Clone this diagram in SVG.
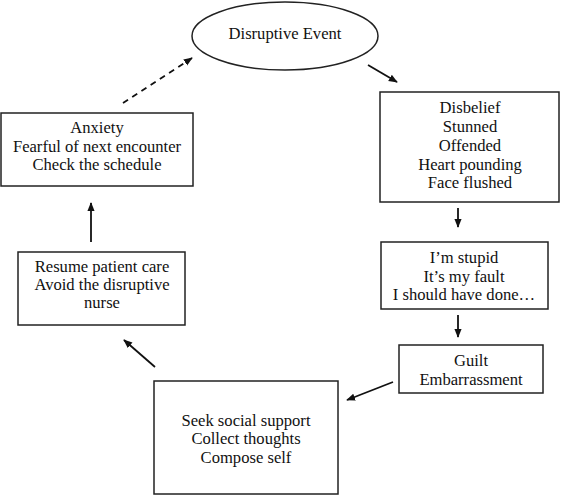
<svg xmlns="http://www.w3.org/2000/svg" width="561" height="497" viewBox="0 0 561 497">
<defs>
<style>
.box{fill:#fff;stroke:#222;stroke-width:1.5}
.t{font-family:"Liberation Serif","Times New Roman",serif;font-size:16.6px;fill:#111;text-anchor:middle}
.c{stroke:#111;stroke-width:1.8;fill:none;marker-end:url(#ah)}
.d{stroke-dasharray:6,5}
</style>
<marker id="ah" viewBox="0 0 10 10" refX="9" refY="5" markerWidth="5" markerHeight="5" orient="auto" markerUnits="strokeWidth">
<path d="M0,1 L10,5 L0,9 z" fill="#111"/>
</marker>
</defs>
<rect width="561" height="497" fill="#fff"/>
<g id="connectors">
<line class="c" x1="368" y1="65" x2="397" y2="82"/>
<line class="c" x1="458" y1="208" x2="458" y2="227"/>
<line class="c" x1="458" y1="315" x2="458" y2="337"/>
<line class="c" x1="393" y1="382" x2="347" y2="400"/>
<line class="c" x1="155" y1="367" x2="124" y2="340"/>
<line class="c" x1="91" y1="242" x2="91" y2="203"/>
<line class="c d" x1="123" y1="103" x2="192" y2="58"/>
</g>
<g id="disruptive">
<ellipse class="box" cx="285" cy="36" rx="93" ry="34"/>
<text class="t" x="285" y="39">Disruptive Event</text>
</g>
<g id="disbelief">
<rect class="box" x="380" y="92" width="179" height="110"/>
<text class="t" x="470" y="113">Disbelief</text>
<text class="t" x="470" y="132">Stunned</text>
<text class="t" x="470" y="151">Offended</text>
<text class="t" x="470" y="170">Heart pounding</text>
<text class="t" x="470" y="188">Face flushed</text>
</g>
<g id="stupid">
<rect class="box" x="381" y="242" width="167" height="67"/>
<text class="t" x="464" y="263">I’m stupid</text>
<text class="t" x="464" y="282">It’s my fault</text>
<text class="t" x="464" y="300">I should have done…</text>
</g>
<g id="guilt">
<rect class="box" x="399" y="345" width="144" height="48"/>
<text class="t" x="471" y="366">Guilt</text>
<text class="t" x="471" y="385">Embarrassment</text>
</g>
<g id="seek">
<rect class="box" x="154" y="381" width="184" height="113"/>
<text class="t" x="246" y="426">Seek social support</text>
<text class="t" x="246" y="444">Collect thoughts</text>
<text class="t" x="246" y="463">Compose self</text>
</g>
<g id="resume">
<rect class="box" x="18" y="252" width="167" height="73"/>
<text class="t" x="102" y="272">Resume patient care</text>
<text class="t" x="102" y="290">Avoid the disruptive</text>
<text class="t" x="102" y="308">nurse</text>
</g>
<g id="anxiety">
<rect class="box" x="1" y="113" width="192" height="73"/>
<text class="t" x="97" y="133">Anxiety</text>
<text class="t" x="97" y="152">Fearful of next encounter</text>
<text class="t" x="97" y="170">Check the schedule</text>
</g>
</svg>
